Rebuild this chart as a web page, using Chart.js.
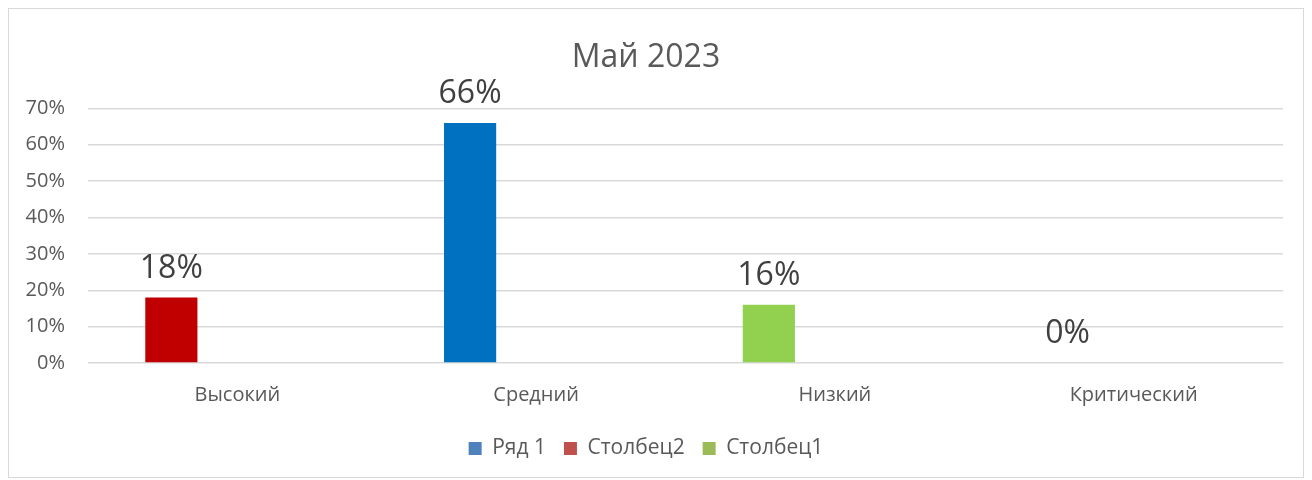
<!DOCTYPE html>
<html>
<head>
<meta charset="utf-8">
<script src="https://cdn.jsdelivr.net/npm/chart.js@4"></script>
<style>
  body { margin: 0; background: #fff; }
  #frame {
    position: absolute; left: 8px; top: 8px;
    width: 1296px; height: 470px;
    border: 1px solid #d9d9d9; box-sizing: border-box;
  }
  #wrap { position: relative; width: 1294px; height: 468px; }
</style>
</head>
<body>
<div id="frame"><div id="wrap"><canvas id="chart"></canvas></div></div>
<script>
const categories = ['Высокий', 'Средний', 'Низкий', 'Критический'];
const seriesNames = ['Ряд 1', 'Столбец2', 'Столбец1'];
const row1 = [18, 66, 16, 0];
const col2 = [null, null, null, null];
const col1 = [null, null, null, null];
const barColors = ['#C00000', '#0070C0', '#92D050', '#A5A5A5'];
const legendColors = ['#4F81BD', '#C0504D', '#9BBB59'];
const yMax = 70;
const yStep = 10;

const textGrey = '#595959';
const font = 'Open Sans, Lato, sans-serif';

// labels over the bars of the first series
const valueLabels = {
    id: 'valueLabels',
    afterDatasetsDraw(chart) {
        const ctx = chart.ctx;
        const meta = chart.getDatasetMeta(0);
        ctx.save();
        ctx.font = '32px ' + font;
        ctx.fillStyle = '#404040';
        ctx.textAlign = 'center';
        ctx.textBaseline = 'alphabetic';
        meta.data.forEach((bar, i) => {
            const v = row1[i];
            if (v === null) return;
            ctx.fillText(v + '%', bar.x, bar.y - 20);
        });
        ctx.restore();
    }
};

new Chart(document.getElementById('chart'), {
    type: 'bar',
    data: {
        labels: categories,
        datasets: [
            { label: seriesNames[0], data: row1, backgroundColor: barColors },
            { label: seriesNames[1], data: col2, backgroundColor: legendColors[1] },
            { label: seriesNames[2], data: col1, backgroundColor: legendColors[2] }
        ]
    },
    options: {
        responsive: true,
        maintainAspectRatio: false,
        animation: false,
        datasets: { bar: { categoryPercentage: 0.663, barPercentage: 0.79 } },
        layout: { padding: { left: 0, right: 20, top: 0, bottom: 8 } },
        plugins: {
            title: {
                display: true,
                text: 'Май 2023',
                color: textGrey,
                font: { family: font, size: 32, weight: 'normal' },
                padding: { top: 30, bottom: 31 }
            },
            legend: {
                position: 'bottom',
                labels: {
                    color: textGrey,
                    font: { family: font, size: 21 },
                    boxWidth: 13,
                    boxHeight: 13,
                    padding: 18,
                    generateLabels: (chart) => seriesNames.map((n, i) => ({
                        text: n,
                        fillStyle: legendColors[i],
                        strokeStyle: legendColors[i],
                        lineWidth: 0,
                        fontColor: textGrey,
                        datasetIndex: i
                    }))
                }
            },
            tooltip: { enabled: false }
        },
        scales: {
            x: {
                grid: { display: false, drawTicks: false },
                border: { display: false },
                ticks: { color: textGrey, font: { family: font, size: 20 }, padding: 20 },
                afterFit: (s) => { s.height = 57; }
            },
            y: {
                min: 0,
                max: yMax,
                grid: { color: '#d9d9d9', lineWidth: 1.5, drawTicks: false },
                border: { display: false },
                ticks: {
                    stepSize: yStep,
                    color: textGrey,
                    font: { family: font, size: 20 },
                    padding: 23,
                    callback: (v) => v + '%'
                },
                afterFit: (s) => { s.width = 79; }
            }
        }
    },
    plugins: [valueLabels]
});
</script>
</body>
</html>
